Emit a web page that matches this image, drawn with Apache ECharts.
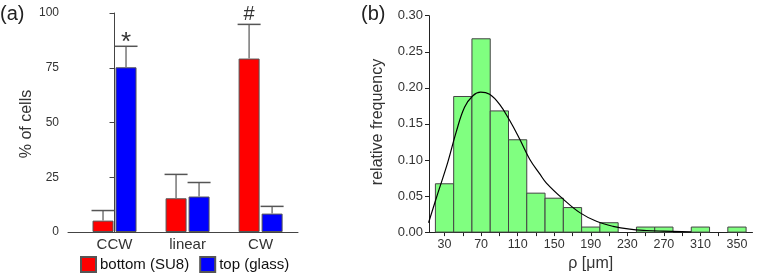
<!DOCTYPE html>
<html>
<head>
<meta charset="utf-8">
<script src="https://cdn.jsdelivr.net/npm/echarts@6/dist/echarts.min.js"></script>
<style>
html,body{margin:0;padding:0;background:#fff;}
#c{width:763px;height:277px;}
</style>
</head>
<body>
<div id="c"></div>
<script>
// ---------- Panel (a) data ----------
var categories = ['CCW', 'linear', 'CW'];
var bottomValues = [5.2, 15.4, 79.2];      // bottom (SU8), %
var bottomErrTop = [9.8, 26.3, 94.8];      // upper end of error bar
var topValues = [75.2, 16.2, 8.4];         // top (glass), %
var topErrTop = [84.8, 22.6, 11.7];
var bottomMarks = ['', '', '#'];
var topMarks = ['*', '', ''];

// ---------- Panel (b) data ----------
var binStart = [20, 40, 60, 80, 100, 120, 140, 160, 180, 200, 220, 240, 260, 280, 300, 320, 340];
var binEnd   = [40, 60, 80, 100, 120, 140, 160, 180, 200, 220, 240, 260, 280, 300, 320, 340, 360];
var relFreq  = [0.067, 0.188, 0.268, 0.168, 0.128, 0.054, 0.047, 0.034, 0.007, 0.013, 0, 0.007, 0.007, 0, 0.007, 0, 0.007];
var fitRho   = [12.5, 22.7, 33.6, 42.8, 51.9, 61, 69.5, 79.3, 90.3, 101.2, 112.2, 123.2, 134, 141.5, 159.6, 178, 196.2, 214.4, 232.7, 251, 269, 300];
var fitFreq  = [0.013, 0.054, 0.097, 0.139, 0.173, 0.189, 0.194, 0.191, 0.177, 0.155, 0.129, 0.101, 0.081, 0.068, 0.046, 0.027, 0.015, 0.008, 0.004, 0.0022, 0.0014, 0.0005];
var xLabelsB = [30, 70, 110, 150, 190, 230, 270, 310, 350];
var xTicksB  = [30, 50, 70, 90, 110, 130, 150, 170, 190, 210, 230, 250, 270, 290, 310, 330, 350];

var FONT = '"Liberation Sans", Arial, "DejaVu Sans", sans-serif';
var BAR_W = 21, GAP = 2;
var OFF = (BAR_W + GAP) / 2;

function pairs(xs, ys) { return xs.map(function (x, i) { return [x, ys[i]]; }); }

var errData = [];
categories.forEach(function (c, i) {
  errData.push([i, bottomValues[i], bottomErrTop[i], -1, bottomMarks[i]]);
  errData.push([i, topValues[i], topErrTop[i], 1, topMarks[i]]);
});

var histData = binStart.map(function (s, i) { return [s, binEnd[i], relFreq[i]]; });

var chart = echarts.init(document.getElementById('c'), null, {renderer: 'canvas'});
var option = {
  animation: false,
  backgroundColor: '#fff',
  textStyle: {fontFamily: FONT},
  grid: [
    {left: 68, top: 13, width: 230, height: 219},
    {left: 429, top: 15.7, width: 323.5, height: 218.6}
  ],
  xAxis: [
    {
      gridIndex: 0, type: 'value', min: -0.637, max: 2.512,
      splitLine: {show: false},
      axisLine: {show: true, lineStyle: {color: '#444', width: 1}},
      axisTick: {show: false},
      axisLabel: {
        customValues: [0, 1, 2], margin: 5,
        fontSize: 15, color: '#333', fontFamily: FONT,
        formatter: function (v) { return categories[Math.round(v)]; }
      }
    },
    {
      gridIndex: 1, type: 'value', min: 13, max: 367,
      splitLine: {show: false},
      axisLine: {show: true, lineStyle: {color: '#222', width: 1}},
      axisTick: {show: true, length: 4, customValues: xTicksB, lineStyle: {color: '#222'}},
      axisLabel: {customValues: xLabelsB, margin: 6, fontSize: 12.5, color: '#333', fontFamily: FONT},
      name: 'ρ [μm]', nameLocation: 'middle', nameGap: 14,
      nameTextStyle: {fontSize: 16, color: '#333', fontFamily: FONT, verticalAlign: 'top'}
    }
  ],
  yAxis: [
    {
      gridIndex: 0, type: 'value', min: 0, max: 100, interval: 25,
      splitLine: {show: false},
      axisLine: {show: true, lineStyle: {color: '#444', width: 1}},
      axisTick: {show: true, length: 5, lineStyle: {color: '#444'}},
      axisLabel: {margin: 9, fontSize: 12, color: '#333', fontFamily: FONT}
    },
    {
      gridIndex: 1, type: 'value', min: 0, max: 0.3, interval: 0.05,
      splitLine: {show: false},
      axisLine: {show: true, lineStyle: {color: '#222', width: 1}},
      axisTick: {show: true, length: 4, lineStyle: {color: '#222'}},
      axisLabel: {margin: 6, fontSize: 13, color: '#333', fontFamily: FONT,
        formatter: function (v) { return v.toFixed(2); }}
    }
  ],
  legend: {
    left: 80, top: 256, padding: 0, itemGap: 10, itemWidth: 15, itemHeight: 15,
    icon: 'rect',
    textStyle: {fontSize: 15, color: '#111', fontFamily: FONT, padding: [0, 0, 0, -1]},
    data: ['bottom (SU8)', 'top (glass)']
  },
  series: [
    {
      name: 'bottom (SU8)', type: 'bar', xAxisIndex: 0, yAxisIndex: 0,
      barWidth: BAR_W, barGap: (GAP / BAR_W * 100) + '%',
      itemStyle: {color: '#ff0000', borderColor: '#555', borderWidth: 1},
      data: pairs([0, 1, 2], bottomValues)
    },
    {
      name: 'top (glass)', type: 'bar', xAxisIndex: 0, yAxisIndex: 0,
      barWidth: BAR_W, barGap: (GAP / BAR_W * 100) + '%',
      itemStyle: {color: '#0000ff', borderColor: '#555', borderWidth: 1},
      data: pairs([0, 1, 2], topValues)
    },
    {
      type: 'custom', xAxisIndex: 0, yAxisIndex: 0, silent: true, z: 5,
      data: errData,
      renderItem: function (params, api) {
        var x = api.value(0), v = api.value(1), e = api.value(2), side = api.value(3);
        var mark = errData[params.dataIndex][4];
        var pv = api.coord([x, v]);
        var pe = api.coord([x, e]);
        var cx = pv[0] + side * OFF;
        var children = [
          {type: 'line', shape: {x1: cx, y1: pv[1], x2: cx, y2: pe[1]}, style: {stroke: '#777', lineWidth: 1.5}},
          {type: 'line', shape: {x1: cx - BAR_W / 2 - 1, y1: pe[1], x2: cx + BAR_W / 2 + 1, y2: pe[1]}, style: {stroke: '#555', lineWidth: 1.5}}
        ];
        if (mark === '*') {
          children.push({type: 'text', x: cx, y: pe[1] - 3,
            style: {text: mark, font: '26px ' + FONT, fill: '#333', align: 'center', verticalAlign: 'middle'}});
        } else if (mark) {
          children.push({type: 'text', x: cx, y: pe[1] - 10,
            style: {text: mark, font: '20px ' + FONT, fill: '#333', align: 'center', verticalAlign: 'middle'}});
        }
        return {type: 'group', children: children};
      }
    },
    {
      type: 'custom', xAxisIndex: 1, yAxisIndex: 1, silent: true,
      encode: {x: [0, 1], y: 2},
      data: histData,
      renderItem: function (params, api) {
        var p0 = api.coord([api.value(0), api.value(2)]);
        var p1 = api.coord([api.value(1), 0]);
        if (api.value(2) <= 0) return null;
        return {type: 'rect', shape: {x: p0[0], y: p0[1], width: p1[0] - p0[0], height: p1[1] - p0[1]},
          style: {fill: '#80ff80', stroke: '#444', lineWidth: 1}};
      }
    },
    {
      type: 'line', xAxisIndex: 1, yAxisIndex: 1, smooth: 0.4, showSymbol: false, silent: true, z: 5,
      lineStyle: {color: '#000', width: 1.2},
      data: pairs(fitRho, fitFreq)
    }
  ],
  graphic: [
    {type: 'text', left: 0, top: 4, style: {text: '(a)', font: '20px ' + FONT, fill: '#222'}},
    {type: 'text', left: 361, top: 4, style: {text: '(b)', font: '20px ' + FONT, fill: '#222'}},
    {type: 'text', x: 27, y: 124, rotation: Math.PI / 2,
      style: {text: '% of cells', font: '16px ' + FONT, fill: '#333', align: 'center', verticalAlign: 'middle'}},
    {type: 'text', x: 378, y: 122, rotation: Math.PI / 2,
      style: {text: 'relative frequency', font: '16px ' + FONT, fill: '#333', align: 'center', verticalAlign: 'middle'}}
  ]
};
chart.setOption(option);
</script>
</body>
</html>
